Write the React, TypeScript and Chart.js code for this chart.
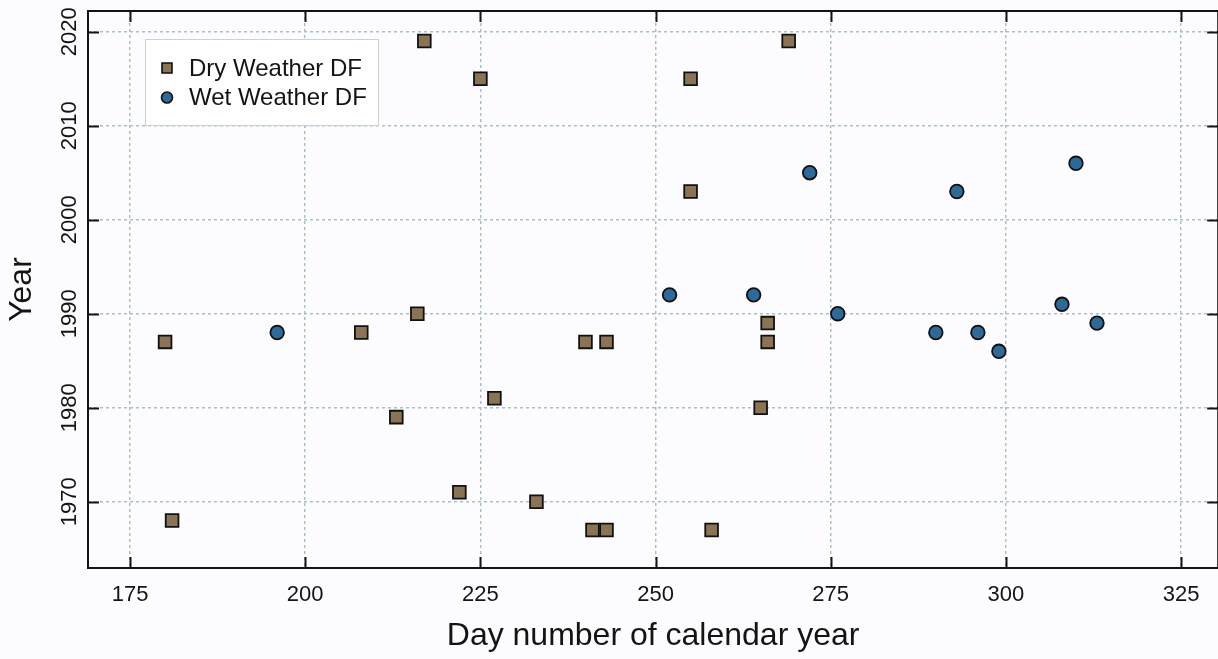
import React, { useEffect, useRef } from "react";
import { Chart, registerables } from "chart.js";

Chart.register(...registerables);

const DRY_DAYS = [180, 181, 208, 213, 216, 217, 222, 225, 227, 233, 240, 241, 243, 243, 255, 255, 258, 265, 266, 266, 269];
const DRY_YEARS = [1987, 1968, 1988, 1979, 1990, 2019, 1971, 2015, 1981, 1970, 1987, 1967, 1987, 1967, 2015, 2003, 1967, 1980, 1989, 1987, 2019];
const WET_DAYS = [196, 252, 264, 272, 276, 290, 293, 296, 299, 308, 310, 313];
const WET_YEARS = [1988, 1992, 1992, 2005, 1990, 1988, 2003, 1988, 1986, 1991, 2006, 1989];
const X_TICKS = [175, 200, 225, 250, 275, 300, 325];
const Y_TICKS = [1970, 1980, 1990, 2000, 2010, 2020];
const SERIES_LABELS = ["Dry Weather DF", "Wet Weather DF"];

const FONT = "'Liberation Sans', Arial, Helvetica, sans-serif";
const BG = "#fcfcfe";
const INK = "#141414";

const bgPlugin = {
  id: "bg",
  beforeDraw(chart: any) {
    const { ctx, width, height } = chart;
    ctx.save();
    ctx.fillStyle = BG;
    ctx.fillRect(0, 0, width, height);
    ctx.restore();
  },
};

const framePlugin = {
  id: "frame",
  afterDatasetsDraw(chart: any) {
    const { ctx, chartArea } = chart;
    const { left, right, top, bottom } = chartArea;
    const xs = chart.scales.x;
    const ys = chart.scales.y;
    ctx.save();
    ctx.strokeStyle = INK;
    ctx.lineWidth = 2;
    ctx.setLineDash([]);
    ctx.strokeRect(left, top, right - left, bottom - top);
    const tl = 11;
    ctx.beginPath();
    for (const t of xs.ticks) {
      const px = Math.round(xs.getPixelForValue(t.value)) + 0.5;
      ctx.moveTo(px, bottom);
      ctx.lineTo(px, bottom - tl);
      ctx.moveTo(px, top);
      ctx.lineTo(px, top + tl);
    }
    for (const t of ys.ticks) {
      const py = Math.round(ys.getPixelForValue(t.value)) + 0.5;
      ctx.moveTo(left, py);
      ctx.lineTo(left + tl, py);
      ctx.moveTo(right, py);
      ctx.lineTo(right - tl, py);
    }
    ctx.stroke();

    // legend box
    const bx = 145, by = 39, bw = 233, bh = 86;
    ctx.fillStyle = "#fefefe";
    ctx.fillRect(bx, by, bw, bh);
    ctx.strokeStyle = "#cfcfcf";
    ctx.lineWidth = 1;
    ctx.strokeRect(bx + 0.5, by + 0.5, bw, bh);
    ctx.font = `24px ${FONT}`;
    ctx.textBaseline = "middle";
    ctx.textAlign = "left";
    chart.data.datasets.forEach((ds: any, i: number) => {
      const cy = 68 + i * 29.5;
      const cx = 167;
      ctx.fillStyle = ds.backgroundColor;
      ctx.strokeStyle = ds.borderColor;
      ctx.lineWidth = 1.6;
      ctx.beginPath();
      if (ds.pointStyle === "rect") {
        ctx.rect(cx - 5, cy - 5, 10, 10);
      } else {
        ctx.arc(cx, cy, 5.5, 0, Math.PI * 2);
      }
      ctx.fill();
      ctx.stroke();
      ctx.fillStyle = INK;
      ctx.fillText(ds.label, 189, cy + 1);
    });
    ctx.restore();
  },
};

export default function App() {
  const ref = useRef<HTMLCanvasElement | null>(null);

  useEffect(() => {
    document.body.style.margin = "0";
    document.body.style.background = BG;
    const canvas = ref.current;
    if (!canvas) return;
    const chart = new Chart(canvas, {
      type: "scatter",
      data: {
        datasets: [
          {
            label: SERIES_LABELS[0],
            data: DRY_DAYS.map((d, i) => ({ x: d, y: DRY_YEARS[i] })),
            pointStyle: "rect",
            pointRadius: 9,
            pointHoverRadius: 9,
            backgroundColor: "#8b7355",
            borderColor: "#111111",
            borderWidth: 1.8,
          },
          {
            label: SERIES_LABELS[1],
            data: WET_DAYS.map((d, i) => ({ x: d, y: WET_YEARS[i] })),
            pointStyle: "circle",
            pointRadius: 6.8,
            pointHoverRadius: 6.8,
            backgroundColor: "#2e6a98",
            borderColor: "#111111",
            borderWidth: 1.8,
          },
        ],
      },
      options: {
        responsive: false,
        animation: false,
        devicePixelRatio: 1,
        layout: { padding: { top: 11, left: 0, right: 0, bottom: 0 } },
        plugins: {
          legend: { display: false },
          tooltip: { enabled: false },
        },
        scales: {
          x: {
            type: "linear",
            min: 169,
            max: 330.3,
            afterBuildTicks: (s: any) => {
              s.ticks = X_TICKS.map((v) => ({ value: v }));
            },
            afterFit: (s: any) => {
              s.height = 91;
              s.paddingLeft = 0;
              s.paddingRight = 0;
            },
            grid: { color: "#a9bfcb", lineWidth: 1.5, drawTicks: false },
            border: { display: false, dash: [3, 3] },
            ticks: {
              autoSkip: false,
              maxRotation: 0,
              minRotation: 0,
              padding: 14,
              color: INK,
              font: { size: 22, family: FONT },
              callback: (v: any) => String(v),
            },
            title: {
              display: true,
              text: "Day number of calendar year",
              color: INK,
              font: { size: 32, family: FONT },
              padding: { top: 0, bottom: 4 },
            },
          },
          y: {
            type: "linear",
            min: 1962.95,
            max: 2022.2,
            afterBuildTicks: (s: any) => {
              s.ticks = Y_TICKS.map((v) => ({ value: v }));
            },
            afterFit: (s: any) => {
              s.width = 88;
              s.paddingTop = 0;
              s.paddingBottom = 0;
            },
            grid: { color: "#a9bfcb", lineWidth: 1.5, drawTicks: false },
            border: { display: false, dash: [3, 3] },
            ticks: {
              autoSkip: false,
              minRotation: 90,
              maxRotation: 90,
              crossAlign: "center",
              padding: -6,
              color: INK,
              font: { size: 22, family: FONT },
              callback: (v: any) => String(v),
            },
            title: {
              display: true,
              text: "Year",
              color: INK,
              font: { size: 32, family: FONT },
              padding: { top: 3, bottom: 0 },
            },
          },
        },
      },
      plugins: [bgPlugin, framePlugin],
    } as any);
    return () => chart.destroy();
  }, []);

  return (
    <div style={{ position: "fixed", left: 0, top: 0, width: 1218, height: 659, overflow: "hidden", background: BG }}>
      <canvas ref={ref} width={1229} height={659} style={{ display: "block" }} />
    </div>
  );
}
